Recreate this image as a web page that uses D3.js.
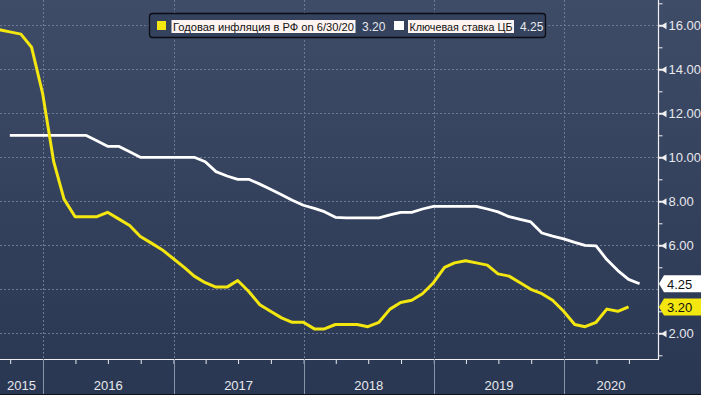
<!DOCTYPE html>
<meta charset="utf-8">
<style>
body { margin: 0; background: #2c3955; }
svg { display: block; }
svg text { font-family: "Liberation Sans", Arial, sans-serif; }
.grid line { stroke: #6d7a96; stroke-dasharray: 2,2; stroke-width: 1; }
.yaxis text { fill: #e6e8ec; font-size: 13px; }
</style>
<body>
<svg width="701" height="395"></svg>

<script src="https://cdn.jsdelivr.net/npm/d3@7"></script>
<script>

// year-on-year CPI, month-end values, first one is Aug 2015
var inflStart = "2015-08";
var inflation = [
  15.8, 15.7, 15.6, 15.0, 12.9,
  9.8, 8.1, 7.3, 7.3, 7.3, 7.5, 7.2, 6.9, 6.4, 6.1, 5.8, 5.4,
  5.0, 4.6, 4.3, 4.1, 4.1, 4.4, 3.9, 3.3, 3.0, 2.7, 2.5, 2.5,
  2.2, 2.2, 2.4, 2.4, 2.4, 2.3, 2.5, 3.1, 3.4, 3.5, 3.8, 4.3,
  5.0, 5.2, 5.3, 5.2, 5.1, 4.7, 4.6, 4.3, 4.0, 3.8, 3.5, 3.0,
  2.4, 2.3, 2.5, 3.1, 3.0, 3.2
];

// key rate, monthly points as drawn, first one is Sep 2015
var rateStart = "2015-09";
var keyRate = [
  11, 11, 11, 11,
  11, 11, 11, 11, 10.75, 10.5, 10.5, 10.25, 10, 10, 10, 10,
  10, 10, 9.8, 9.35, 9.15, 9.0, 9.0, 8.78, 8.55, 8.3, 8.05, 7.82,
  7.68, 7.53, 7.27, 7.25, 7.25, 7.25, 7.25, 7.38, 7.5, 7.5, 7.65, 7.77,
  7.77, 7.77, 7.77, 7.77, 7.65, 7.52, 7.3, 7.18, 7.06, 6.56, 6.42, 6.29,
  6.13, 6.0, 5.97, 5.35, 4.85, 4.45, 4.25
];

var years = [2015, 2016, 2017, 2018, 2019, 2020];
var yMajor = [2, 4, 6, 8, 10, 12, 14, 16];
var yLabels = [2, 6, 8, 10, 12, 14, 16];   // 4.00 sits under the 4.25 badge
var yMinor = [1, 3, 5, 7, 9, 11, 13, 15, 17];

var legendInfl = "Годовая инфляция в РФ on 6/30/20";
var legendRate = "Ключевая ставка ЦБ";
var lastInfl = 3.20, lastRate = 4.25;

var yellow = "#f3e70f";

var svg = d3.select("svg"),
    width = +svg.attr("width"),
    height = +svg.attr("height");

var plotRight = 658, plotBottom = 359;

var x = d3.scaleUtc()
    .domain([new Date(Date.UTC(2016, 0, 1)), new Date(Date.UTC(2020, 0, 1))])
    .range([43, 564]);
var y = d3.scaleLinear().domain([2, 16]).range([333.3, 25.3]);

var xLeft = x.invert(0), xRight = x.invert(plotRight);

function monthEnds(start, n) {
  var s = d3.utcParse("%Y-%m")(start);
  return d3.range(n).map(function(i) { return d3.utcDay.offset(d3.utcMonth.offset(s, i + 1), -1); });
}
var inflDates = monthEnds(inflStart, inflation.length);
var rateDates = monthEnds(rateStart, keyRate.length);

// background
var defs = svg.append("defs");
var grad = defs.append("linearGradient").attr("id", "bg").attr("x1", 0).attr("y1", 0).attr("x2", 0).attr("y2", 1);
grad.append("stop").attr("offset", "0%").attr("stop-color", "#3f4c68");
grad.append("stop").attr("offset", "100%").attr("stop-color", "#2a3753");
svg.append("rect").attr("width", width).attr("height", height).attr("fill", "url(#bg)");

defs.append("clipPath").attr("id", "plot")
  .append("rect").attr("x", 0).attr("y", 0).attr("width", plotRight).attr("height", plotBottom);

// grid
var yearStarts = years.slice(1).map(function(yr) { return new Date(Date.UTC(yr, 0, 1)); });
var grid = svg.append("g").attr("class", "grid");
grid.selectAll(".h").data(yMajor).enter().append("line")
    .attr("x1", 0).attr("x2", plotRight)
    .attr("y1", function(d) { return Math.round(y(d)) + 0.5; })
    .attr("y2", function(d) { return Math.round(y(d)) + 0.5; });
grid.selectAll(".v").data(yearStarts).enter().append("line")
    .attr("y1", 0).attr("y2", plotBottom)
    .attr("x1", function(d) { return Math.round(x(d)) + 0.5; })
    .attr("x2", function(d) { return Math.round(x(d)) + 0.5; });

// lines
var plot = svg.append("g").attr("clip-path", "url(#plot)");
var line = d3.line()
    .x(function(d) { return x(d[0]); })
    .y(function(d) { return y(d[1]); });

plot.append("path")
    .datum(d3.zip(rateDates, keyRate))
    .attr("fill", "none").attr("stroke", "#ffffff").attr("stroke-width", 2.8)
    .attr("stroke-linejoin", "round")
    .attr("d", line);

plot.append("path")
    .datum(d3.zip(inflDates, inflation))
    .attr("fill", "none").attr("stroke", yellow).attr("stroke-width", 3)
    .attr("stroke-linejoin", "round")
    .attr("d", line);

// bottom axis
var quarters = d3.utcMonth.every(3).range(xLeft, xRight);
var xAxis = svg.append("g")
    .attr("transform", "translate(0," + plotBottom + ")")
    .call(d3.axisBottom(x).tickValues(quarters).tickSize(5).tickFormat(""));
xAxis.select(".domain").remove();
xAxis.selectAll(".tick line").attr("stroke", "#e8eaee");
svg.append("line")
    .attr("x1", 0).attr("x2", plotRight + 0.5)
    .attr("y1", plotBottom + 0.5).attr("y2", plotBottom + 0.5)
    .attr("stroke", "#f0f0f0").attr("stroke-width", 1.2);

svg.selectAll(".sep").data(yearStarts).enter().append("line")
    .attr("x1", function(d) { return Math.round(x(d)) + 0.5; })
    .attr("x2", function(d) { return Math.round(x(d)) + 0.5; })
    .attr("y1", plotBottom).attr("y2", height)
    .attr("stroke", "#8a94a8").attr("stroke-width", 1);

svg.selectAll(".year").data(years).enter().append("text")
    .attr("x", function(d) {
      var a = Math.max(0, x(new Date(Date.UTC(d, 0, 1))));
      var b = Math.min(plotRight, x(new Date(Date.UTC(d + 1, 0, 1))));
      return (a + b) / 2;
    })
    .attr("y", 390)
    .attr("text-anchor", "middle")
    .attr("fill", "#e6e8ec")
    .attr("font-size", "13px")
    .text(function(d) { return d; });

svg.append("line")
    .attr("x1", 0).attr("x2", width).attr("y1", height - 0.5).attr("y2", height - 0.5)
    .attr("stroke", "#10131a");

// right axis
svg.append("line")
    .attr("x1", plotRight + 0.5).attr("x2", plotRight + 0.5)
    .attr("y1", 0).attr("y2", plotBottom + 1)
    .attr("stroke", "#f0f0f0").attr("stroke-width", 1.2);

var yMinorAxis = svg.append("g")
    .attr("transform", "translate(" + (plotRight + 0.5) + ",0)")
    .call(d3.axisRight(y).tickValues(yMinor).tickSize(4).tickFormat(""));
yMinorAxis.select(".domain").remove();
yMinorAxis.selectAll(".tick line").attr("stroke", "#f0f0f0");

var yAxis = svg.append("g")
    .attr("class", "yaxis")
    .attr("transform", "translate(" + (plotRight + 0.5) + ",0)")
    .call(d3.axisRight(y).tickValues(yLabels).tickSize(0).tickPadding(10).tickFormat(d3.format(".2f")));
yAxis.select(".domain").remove();
yAxis.selectAll(".tick text").attr("font-family", null).attr("font-size", null).attr("fill", null);
yAxis.selectAll(".tick").append("path")
    .attr("d", "M0,-1L4,-1L8,-3.5L8,3.5L4,1L0,1Z")
    .attr("fill", "#f0f0f0");

// last value badges
function badge(v, fill) {
  var g = svg.append("g").attr("transform", "translate(" + (plotRight + 1) + "," + y(v) + ")");
  g.append("path")
      .attr("d", "M0,0L5,-8.5L46,-8.5L46,8.5L5,8.5Z")
      .attr("fill", fill);
  g.append("text")
      .attr("x", 8).attr("y", 4.8)
      .attr("fill", "#111")
      .attr("font-size", "13px")
      .text(d3.format(".2f")(v));
}
badge(lastRate, "#ffffff");
badge(lastInfl, yellow);

// legend
var lg = svg.append("g");
lg.append("rect")
    .attr("x", 149.5).attr("y", 13.5).attr("width", 396).attr("height", 24).attr("rx", 3)
    .attr("fill", "#35425e").attr("stroke", "#0b0d12").attr("stroke-width", 1.3);

// label with a pale highlight behind it, shrunk to fit the given width
function legendLabel(x0, w, txt) {
  lg.append("rect").attr("x", x0 - 1.5).attr("y", 20).attr("width", w + 3).attr("height", 13).attr("fill", "#fdf3f0");
  var t = lg.append("text").attr("x", x0).attr("y", 30.5).attr("font-size", "12px").attr("fill", "#111").text(txt);
  var len = t.node().getComputedTextLength();
  if (len > w) t.attr("font-size", (12 * w / len).toFixed(2) + "px");
}

lg.append("rect").attr("x", 157).attr("y", 21).attr("width", 9).attr("height", 9).attr("fill", yellow);
legendLabel(173, 181, legendInfl);
lg.append("text").attr("x", 362).attr("y", 30.5).attr("font-size", "12px").attr("fill", "#e6e8ec")
    .text(d3.format(".2f")(lastInfl));

lg.append("rect").attr("x", 394).attr("y", 21).attr("width", 10).attr("height", 9).attr("fill", "#ffffff");
legendLabel(409.5, 103, legendRate);
lg.append("text").attr("x", 520).attr("y", 30.5).attr("font-size", "12px").attr("fill", "#e6e8ec")
    .text(d3.format(".2f")(lastRate));

</script>
</body>
